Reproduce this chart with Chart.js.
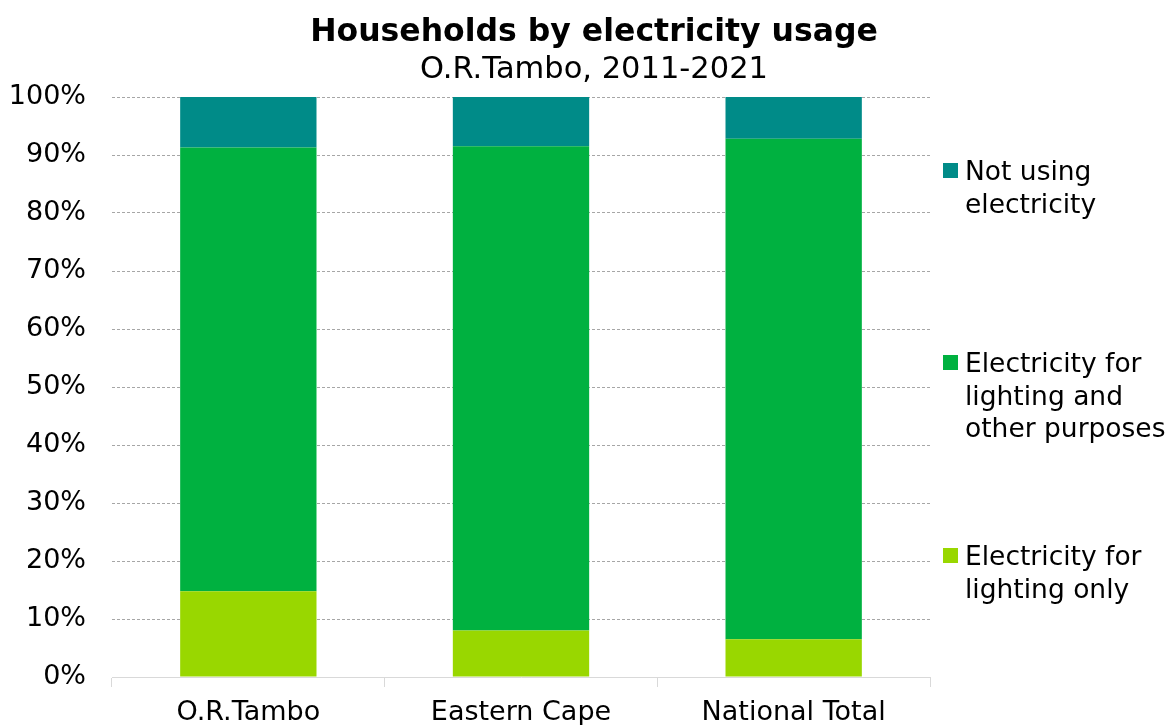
<!DOCTYPE html>
<html>
<head>
<meta charset="utf-8">
<script src="https://cdn.jsdelivr.net/npm/chart.js@4.4.1/dist/chart.umd.min.js"></script>
<style>
  body { margin: 0; background: #fff; }
  #wrap { position: relative; width: 1167px; height: 725px; font-family: "DejaVu Sans", Verdana, sans-serif; color: #000; }
  .head { position: absolute; left: 0; width: 1188px; text-align: center; white-space: nowrap; }
  #title { top: 12px; font-size: 31.5px; font-weight: bold; line-height: 36px; }
  #subtitle { top: 50px; font-size: 30.5px; line-height: 36px; }
  #legend { position: absolute; left: 942px; top: 0; font-size: 26.5px; line-height: 32.5px; }
  .item { position: absolute; left: 0; white-space: nowrap; }
  .box { position: absolute; left: 1px; top: 8px; width: 15px; height: 15px; }
  .txt { position: absolute; left: 23px; top: 0; }
</style>
</head>
<body>
<div id="wrap">
  <canvas id="chart" width="1167" height="725"></canvas>
  <div id="title" class="head"></div>
  <div id="subtitle" class="head"></div>
  <div id="legend"></div>
</div>
<script>
const titleText = 'Households by electricity usage';
const subtitleText = 'O.R.Tambo, 2011-2021';
const categories = ['O.R.Tambo', 'Eastern Cape', 'National Total'];
const lightingOnly = [14.8, 8.0, 6.5];
const lightingOther = [76.5, 83.5, 86.3];
const notUsing = [8.7, 8.5, 7.2];

const seriesNames = ['Electricity for lighting only', 'Electricity for lighting and other purposes', 'Not using electricity'];
// legend wraps like the original
const legendLines = [
  ['Electricity for', 'lighting only'],
  ['Electricity for', 'lighting and', 'other purposes'],
  ['Not using', 'electricity']
];
const legendTops = [540, 347, 155];
const colors = ['#99d700', '#00b140', '#008b88'];
const font = '"DejaVu Sans", Verdana, sans-serif';

document.getElementById('title').textContent = titleText;
document.getElementById('subtitle').textContent = subtitleText;

const chart = new Chart(document.getElementById('chart'), {
  type: 'bar',
  data: {
    labels: categories,
    datasets: [
      { label: seriesNames[0], data: lightingOnly, backgroundColor: colors[0], yAxisID: 'y' },
      { label: seriesNames[1], data: lightingOther, backgroundColor: colors[1], yAxisID: 'y' },
      { label: seriesNames[2], data: notUsing, backgroundColor: colors[2], yAxisID: 'y' }
    ]
  },
  options: {
    responsive: false,
    animation: false,
    layout: { padding: { left: 0, right: 0, top: 97, bottom: 0 } },
    datasets: { bar: { categoryPercentage: 1, barPercentage: 0.5 } },
    plugins: {
      legend: { display: false },
      tooltip: { enabled: false }
    },
    scales: {
      x: {
        stacked: true,
        afterFit: (s) => { s.height = 48; },
        border: { color: '#d9d9d9', width: 1 },
        grid: { drawOnChartArea: false, drawTicks: true, tickLength: 10, color: '#d9d9d9', offset: true },
        ticks: { color: '#000', font: { family: font, size: 27 }, padding: 10, maxRotation: 0 }
      },
      y: {
        stacked: true,
        min: 0,
        max: 100,
        afterFit: (s) => { s.width = 112; },
        border: { display: false, dash: [3, 2] },
        grid: { color: '#a6a6a6', drawTicks: false },
        ticks: { stepSize: 10, color: '#000', padding: 26, font: { family: font, size: 27 }, callback: (v) => v + '%' }
      },
      // empty axis keeping room for the legend on the right
      legendSpace: {
        type: 'linear',
        position: 'right',
        afterFit: (s) => { s.width = 237; },
        border: { display: false },
        grid: { display: false },
        ticks: { display: false }
      }
    }
  }
});

const legendEl = document.getElementById('legend');
for (let i = 0; i < seriesNames.length; i++) {
  const item = document.createElement('div');
  item.className = 'item';
  item.style.top = legendTops[i] + 'px';
  const box = document.createElement('div');
  box.className = 'box';
  box.style.background = colors[i];
  const txt = document.createElement('div');
  txt.className = 'txt';
  txt.innerHTML = legendLines[i].join('<br>');
  item.appendChild(box);
  item.appendChild(txt);
  legendEl.appendChild(item);
}
</script>
</body>
</html>
